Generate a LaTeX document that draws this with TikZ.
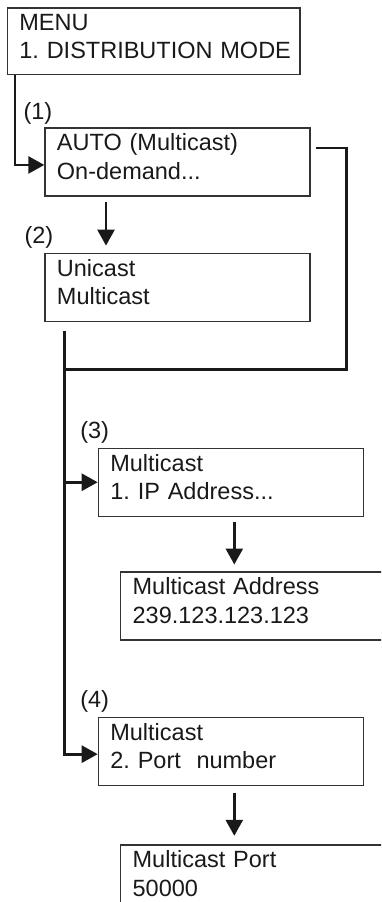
\documentclass[tikz,border=0pt]{standalone}
\usepackage{fontspec}
\setmainfont{Liberation Sans}
\usepackage{tikz}
\usetikzlibrary{arrows.meta,positioning,calc}
\tikzstyle{block} = [draw=black!80, rectangle, line width=1.3pt, inner xsep=12pt, inner ysep=0pt,
    minimum height=68pt, text width=241pt, text height=11.7pt, text depth=33.8pt, align=left, text=black!90]
\tikzstyle{tag} = [inner sep=0pt, anchor=base west, text=black!90]
\tikzstyle{conn} = [draw, line width=2.7pt, color=black!90]

\begin{document}
\begin{tikzpicture}[x=1pt, y=1pt, >={Triangle[length=16pt,width=17pt]}] \fontsize{23.5pt}{28.5pt}\selectfont\frenchspacing
	\useasboundingbox (0,0) rectangle (381,-902);
	\clip (0,0) rectangle (381,-902);

	\node at (6.7,-7.3) [block, anchor=north west, text width=268.6pt, minimum height=66.7pt, name=menu] {MENU\\\mbox{1. DISTRIBUTION MODE}};
	\node [block, below=52pt of menu.south west, anchor=north west, xshift=37.6pt] (auto) {AUTO (Multicast)\\On-demand...};
	\node [block, below=56pt of auto.south west, anchor=north west] (uni) {Unicast\\Multicast};
	\node [block, below=125.7pt of uni.south west, anchor=north west, xshift=53.4pt] (ipmenu) {Multicast\\1. IP Address...};
	\node [block, below=54.3pt of ipmenu.south west, anchor=north west, xshift=22.3pt] (addr) {Multicast Address\\239.123.123.123};
	\node [block, below=76pt of addr.south west, anchor=north west, xshift=-22.3pt] (portmenu) {Multicast\\2. Port\ \ number};
	\node [block, below=58.4pt of portmenu.south west, anchor=north west, xshift=22.3pt] (port) {Multicast Port\\50000};

	\node [tag] (t1) at ($(auto.north west)+(-20.9,7.5)$) {(1)};
	\node [tag] (t2) at ($(uni.north west)+(-19.9,9.5)$) {(2)};
	\node [tag] (t3) at ($(ipmenu.north west)+(-17.6,9.5)$) {(3)};
	\node [tag] (t4) at ($(portmenu.north west)+(-17.6,9.5)$) {(4)};

	\draw [conn, ->] ($(menu.south west)+(8.3,0)$) |- ($(auto.west)+(0,-3)$);
	\draw [conn, ->, shorten <=5pt, shorten >=7pt] ($(auto.south west)+(61.7,0)$) -- ($(uni.north west)+(61.7,0)$);

	% way back from the auto menu
	\coordinate (tee) at ($(uni.south west)+(20,-47.4)$);
	\coordinate (bend) at ($(auto.north east |- tee)+(35.7,0)$);
	\draw [conn] ($(auto.north east)+(5.7,-20.7)$) -| (bend) -- (tee);

	\coordinate (spine) at ($(uni.south west)+(20,-9)$);
	\draw [conn, ->] (spine) |- ($(portmenu.west)+(0,-3)$);
	\draw [conn, ->] (spine |- ipmenu.west) -- (ipmenu.west);

	\draw [conn, ->, shorten <=5pt, shorten >=6.7pt] ($(ipmenu.south west)+(136.6,0)$) -- ($(addr.north west)+(114.3,0)$);
	\draw [conn, ->, shorten <=6.7pt, shorten >=8.4pt] ($(portmenu.south west)+(136.6,0)$) -- ($(port.north west)+(114.3,0)$);

\end{tikzpicture}
\end{document}
